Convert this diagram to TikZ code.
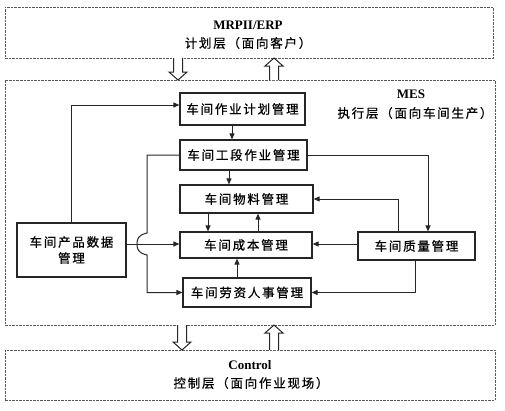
\documentclass[tikz,border=0pt]{standalone}
\usepackage{fontspec}
\setmainfont{Liberation Serif}
\newfontfamily\cjk{Noto Sans CJK SC}[LetterSpace=14,FakeBold=0.6]
\usetikzlibrary{arrows.meta,calc}
\newcommand\downarr[3]{\draw[hollow] (#1-4.5,#2) -- (#1-4.5,#3-8) -- (#1-9,#3-8) -- (#1,#3) -- (#1+9,#3-8) -- (#1+4.5,#3-8) -- (#1+4.5,#2);}
\newcommand\uparr[3]{\draw[hollow] (#1-4.5,#3) -- (#1-4.5,#2+8) -- (#1-9,#2+8) -- (#1,#2) -- (#1+9,#2+8) -- (#1+4.5,#2+8) -- (#1+4.5,#3);}
\begin{document}
\begin{tikzpicture}[x=1pt,y=-1pt,
  box/.style={draw=black!85, line width=1.2pt, inner sep=0pt, align=center,
    font=\cjk\fontsize{12.5}{16}\selectfont},
  layer/.style={draw=black!65, dash pattern=on 2.5pt off 1pt, line width=0.8pt, inner sep=0pt},
  conn/.style={draw=black!85, line width=1pt, -{Triangle[length=6pt,width=5pt]}},
  hollow/.style={draw=black!85, line width=1pt, fill=white},
  cjktxt/.style={font=\cjk\fontsize{12.5}{14}\selectfont, inner sep=0pt},
  lattxt/.style={font=\fontsize{13}{14}\selectfont\bfseries, inner sep=0pt}
]
\useasboundingbox[fill=white] (0,0) rectangle (505,410);
% layers
\node[layer, minimum width=488pt, minimum height=51pt] (top) at (249,32.5) {};
\node[layer, minimum width=490pt, minimum height=245pt] (mes) at (250,202.5) {};
\node[layer, minimum width=490pt, minimum height=50pt] (ctrl) at (250,375) {};
\node[lattxt] (toplat) at (248,25) {MRPII/ERP};
\node[cjktxt] (topcjk) at (248,43) {计划层（面向客户）};
\node[lattxt] (meslat) at (411,94) {MES};
\node[cjktxt] (mescjk) at (415,113) {执行层（面向车间生产）};
\node[lattxt] (ctrllat) at (250,365) {Control};
\node[cjktxt] (ctrlcjk) at (251,383) {控制层（面向作业现场）};
% hollow arrows between layers
\downarr{178}{58}{80}
\uparr{274}{58}{80}
\downarr{182}{325}{350}
\uparr{274}{325}{350}
% modules
\node[box, minimum width=125pt, minimum height=32pt] (plan) at (242.5,109) {车间作业计划管理};
\node[box, minimum width=127pt, minimum height=30pt] (stage) at (243.5,155) {车间工段作业管理};
\node[box, minimum width=133pt, minimum height=28pt] (mat) at (246.5,199) {车间物料管理};
\node[box, minimum width=132pt, minimum height=26pt] (cost) at (246,245) {车间成本管理};
\node[box, minimum width=128pt, minimum height=29pt] (labor) at (247,292.5) {车间劳资人事管理};
\node[box, minimum width=109pt, minimum height=54pt] (pdm) at (71.5,250) {车间产品数据\\管理};
\node[box, minimum width=117pt, minimum height=28pt] (qual) at (416.5,246) {车间质量管理};
% helper coordinates
\coordinate (yp) at (0,105);
\coordinate (yc) at (0,244);
\coordinate (xa) at (232,0);
\coordinate (xb) at (229,0);
\coordinate (xc) at (208,0);
\coordinate (xd) at (258,0);
\coordinate (xe) at (237,0);
\coordinate (xq1) at (398,0);
\coordinate (xq2) at (415,0);
\coordinate (xs) at (428,0);
\coordinate (h1) at (147,233);
\coordinate (h2) at (147,255);
% connectors
\draw[conn] (pdm.north) |- (plan.west |- yp);
\draw[conn] (plan.south -| xa) -- (stage.north -| xa);
\draw[conn] (stage.south -| xb) -- (mat.north -| xb);
\draw[conn] (mat.south -| xc) -- (cost.north -| xc);
\draw[conn] (cost.north -| xd) -- (mat.south -| xd);
\draw[conn] (labor.north -| xe) -- (cost.south -| xe);
\draw[conn] (qual.west |- yc) -- (cost.east |- yc);
\draw[conn] (qual.north -| xq1) |- (mat.east);
\draw[conn] (qual.south -| xq2) |- (labor.east);
\draw[conn] (stage.east) -| (qual.north -| xs);
\draw[conn] (pdm.east |- yc) -- (cost.west |- yc);
\draw[conn] (stage.west) -| (h1) .. controls (138,235) and (137,239) .. (137,244)
  .. controls (137,249) and (138,253) .. (h2) |- (labor.west);
\end{tikzpicture}
\end{document}
